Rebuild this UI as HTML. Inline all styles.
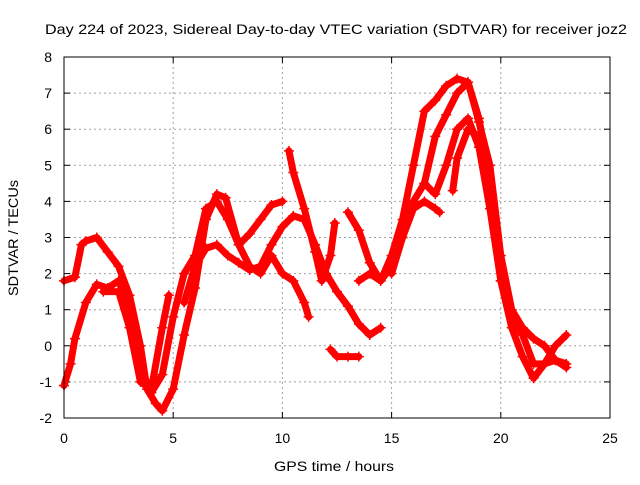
<!DOCTYPE html>
<html><head><meta charset="utf-8"><style>
body{margin:0;background:#fff;font-family:"Liberation Sans",sans-serif}
svg text{font-family:"Liberation Sans",sans-serif;font-size:14px;fill:#000}
</style></head><body>
<svg id="chart" width="640" height="480">
<text x="45" y="34" textLength="582" lengthAdjust="spacingAndGlyphs">Day 224 of 2023, Sidereal Day-to-day VTEC variation (SDTVAR) for receiver joz2</text>
<text x="334" y="471" text-anchor="middle" textLength="120" lengthAdjust="spacingAndGlyphs">GPS time / hours</text>
<text transform="translate(18,238) rotate(-90)" text-anchor="middle" textLength="116" lengthAdjust="spacingAndGlyphs">SDTVAR / TECUs</text>
<g id="grid"></g><g id="series"></g>
<rect x="64" y="57" width="546" height="361" fill="none" stroke="#000" stroke-width="1"/>
</svg>
<script>
const xTicks=[0,5,10,15,20,25];
const yTicks=[-2,-1,0,1,2,3,4,5,6,7,8];
const trackA=[[0,1.8],[0.5,1.9],[0.8,2.8],[1,2.9],[1.5,3.0],[2,2.6],[2.5,2.2],[3,1.4],[3.5,0],[3.8,-1.2],[4.2,-1.6],[4.5,-1.8],[5,-1.2],[5.5,0.3],[6,1.6],[6.5,3.5],[7,4.2],[7.4,4.1],[8,2.8],[8.5,2.2],[9,2.0],[9.5,2.5],[10,2.0],[10.5,1.8],[11,1.2],[11.2,0.8]];
const trackB=[[0,-1.1],[0.3,-0.5],[0.5,0.2],[1,1.2],[1.5,1.7],[2,1.6],[2.5,1.8],[3,1.0],[3.5,-0.6],[4,-1.3],[4.5,-0.8],[5,0.8],[5.5,2.0],[6,2.5],[6.5,3.8],[7,4.0],[7.5,3.5],[8,2.8],[8.5,3.1],[9,3.5],[9.5,3.9],[10,4.0]];
const trackC=[[1.8,1.5],[2.5,1.5],[3,0.5],[3.5,-1],[4,-1.2],[4.5,0.5],[4.8,1.4]];
const trackD=[[5.5,1.2],[6,2.2],[6.5,2.7],[7,2.8],[7.5,2.5],[8,2.3],[8.5,2.1],[9,2.2],[9.5,2.8],[10,3.3],[10.5,3.6],[11,3.5],[11.5,2.8],[12,2.0],[12.5,1.5],[13,1.1],[13.5,0.6],[14,0.3],[14.5,0.5]];
const trackE=[[10.3,5.4],[10.5,4.8],[11,3.8],[11.5,2.6],[11.8,1.8],[12.2,2.5],[12.4,3.4]];
const trackF=[[12.2,-0.1],[12.5,-0.3],[13,-0.3],[13.5,-0.3]];
const trackG=[[13,3.7],[13.5,3.2],[14,2.3],[14.5,1.8],[15,2.2],[15.5,3.0],[16,4.0],[16.5,4.5],[17,4.2],[17.5,5.0],[18,6.0],[18.5,6.3],[19,5.5],[19.5,3.8],[20,1.8],[20.5,0.5],[21,-0.3],[21.5,-0.9],[22,-0.5],[22.5,-0.4],[23,-0.5]];
const trackH=[[13.5,1.8],[14,2.0],[14.5,1.8],[15,2.5],[15.5,3.5],[16,5.0],[16.5,6.5],[17,6.8],[17.5,7.2],[18,7.4],[18.5,7.3],[19,6.2],[19.5,5.0],[20,2.5],[20.5,1.0],[21,0.5],[21.5,0.2],[22,0],[22.5,-0.4],[23,-0.6]];
const trackI=[[15,2.0],[15.5,3.0],[16,3.8],[16.5,4.0],[17,3.8],[17.2,3.7]];
const trackJ=[[16.5,4.5],[17,5.8],[17.5,6.4],[18,7.0],[18.5,7.3],[19,6.3],[19.5,4.5],[20,1.8],[20.5,0.8],[21,0.3],[21.5,-0.5],[22,-0.5],[22.5,0],[23,0.3]];
const trackK=[[17.8,4.3],[18,5.2],[18.5,6.0],[19,5.8],[19.5,4.2]];
const tracks=[trackA,trackB,trackC,trackD,trackE,trackF,trackG,trackH,trackI,trackJ,trackK];
const X0=64,X1=610,Y0=418,Y1=57;
const sx=v=>X0+(v-0)/(25-0)*(X1-X0);
const sy=v=>Y0-(v+2)/(8+2)*(Y0-Y1);
const NS="http://www.w3.org/2000/svg";
const grid=document.getElementById('grid'),ser=document.getElementById('series');
function mk(tag,attrs,parent){const e=document.createElementNS(NS,tag);for(const k in attrs)e.setAttribute(k,attrs[k]);parent.appendChild(e);return e;}
xTicks.forEach(t=>{const x=sx(t);
 if(t>0&&t<25){const g=mk('line',{x1:x,x2:x,y1:Y1,y2:Y0,stroke:'#a0a0a0','stroke-dasharray':'2,3'},grid);
 
 }
 mk('line',{x1:x,x2:x,y1:Y0,y2:Y0-6,stroke:'#000'},grid);mk('line',{x1:x,x2:x,y1:Y1,y2:Y1+6,stroke:'#000'},grid);
 const l=mk('text',{x:x,y:443,'text-anchor':'middle'},grid);l.textContent=t;
 
 });
yTicks.forEach(t=>{const y=sy(t);
 if(t>-2&&t<8){const g=mk('line',{x1:X0,x2:X1,y1:y,y2:y,stroke:'#a0a0a0','stroke-dasharray':'2,3'},grid);
 
 }
 mk('line',{x1:X0,x2:X0+6,y1:y,y2:y,stroke:'#000'},grid);mk('line',{x1:X1,x2:X1-6,y1:y,y2:y,stroke:'#000'},grid);
 const l=mk('text',{x:52,y:y+5,'text-anchor':'end'},grid);l.textContent=t;
 
 });
tracks.forEach((tr,i)=>{
 const pl=mk('polyline',{points:tr.map(p=>sx(p[0])+','+sy(p[1])).join(' '),fill:'none',stroke:'#ff0000','stroke-width':7,'stroke-linejoin':'round','stroke-linecap':'round'},ser);
 
 
 tr.forEach(p=>{const x=sx(p[0]),y=sy(p[1]);
  const m=mk('path',{d:`M${x-5},${y}H${x+5}M${x},${y-5}V${y+5}`,stroke:'#ff0000','stroke-width':1.5},ser);
  
  });
});
</script>
</body></html>
